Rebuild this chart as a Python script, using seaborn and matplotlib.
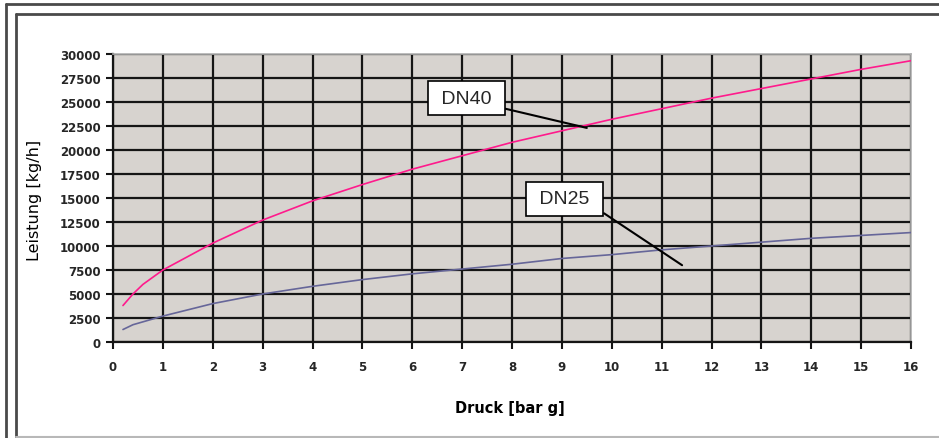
import matplotlib
matplotlib.use("Agg")
import matplotlib.pyplot as plt
import seaborn as sns
import pandas as pd
from matplotlib.lines import Line2D

# ---- data ----
druck = [0.2, 0.4, 0.6, 1, 2, 3, 4, 5, 6, 7, 8, 9, 10, 11, 12, 13, 14, 15, 16]
dn40 = [3800, 5000, 6000, 7500, 10300, 12700, 14700, 16400, 18000, 19400,
        20800, 22000, 23200, 24300, 25400, 26400, 27400, 28400, 29300]
dn25 = [1300, 1800, 2100, 2700, 4000, 5000, 5800, 6500, 7100, 7600,
        8100, 8700, 9100, 9600, 10000, 10400, 10800, 11100, 11400]
series_names = ["DN40", "DN25"]
series_colors = ["#ff1a8c", "#666699"]
xticks = list(range(0, 17))
yticks = list(range(0, 30001, 2500))
xlabel = "Druck [bar g]"
ylabel = "Leistung [kg/h]"

df = pd.concat([
    pd.DataFrame({"Druck": druck, "Leistung": dn40, "Serie": series_names[0]}),
    pd.DataFrame({"Druck": druck, "Leistung": dn25, "Serie": series_names[1]}),
])

sns.set_theme(style="white")
plt.rcParams["font.family"] = ["DejaVu Sans"]

W, H = 939, 439
fig = plt.figure(figsize=(W / 100, H / 100), dpi=100)
fig.patch.set_facecolor("white")

# outer frame lines (figure pixel coords)
def fline(x0, y0, x1, y1, color, lw):
    fig.add_artist(Line2D([x0 / W, x1 / W], [1 - y0 / H, 1 - y1 / H],
                          transform=fig.transFigure, color=color, lw=lw))

fline(6, 5, W, 5, "#4a4a4a", 2.0)
fline(6, 5, 6, H, "#4a4a4a", 2.0)
fline(16, 15, W, 15, "#4a4a4a", 2.0)
fline(16, 15, 16, H, "#4a4a4a", 2.0)
fline(16, 438, W, 438, "#b8b8b8", 1.5)

ax = fig.add_axes([113 / W, 1 - 343 / H, 798 / W, 288 / H])
ax.set_facecolor("#d7d3cf")

sns.lineplot(data=df, x="Druck", y="Leistung", hue="Serie",
             palette=dict(zip(series_names, series_colors)),
             ax=ax, legend=False, lw=1.2, zorder=5)

ax.set_xlim(0, 16)
ax.set_ylim(0, 30000)
ax.set_xticks(xticks)
ax.set_yticks(yticks)
ax.set_xticklabels([str(t) for t in xticks])
ax.set_yticklabels([str(t) for t in yticks])
ax.grid(True, color="#151515", lw=1.6)
ax.set_axisbelow(True)

for s in ["left", "bottom"]:
    ax.spines[s].set_color("#151515")
    ax.spines[s].set_linewidth(1.6)
for s in ["right", "top"]:
    ax.spines[s].set_color("#b0b0b0")
    ax.spines[s].set_linewidth(1.2)

ax.tick_params(axis="both", which="major", direction="out", length=5,
               width=1.5, color="#151515", labelsize=8.5, pad=4,
               bottom=True, left=True)
for lab in ax.get_xticklabels() + ax.get_yticklabels():
    lab.set_fontweight("bold")
ax.tick_params(axis="x", pad=8)

ax.set_xlabel("")
ax.set_ylabel("")
fig.text(510 / W, 1 - 409 / H, xlabel, ha="center", va="center",
         fontsize=10.5, fontweight="bold", color="black")
fig.text(35 / W, 1 - 200 / H, ylabel, ha="center", va="center",
         rotation=90, fontsize=11.5, color="black")

# annotations
bbox = dict(boxstyle="square,pad=0.42", fc="white", ec="black", lw=1.2)
ax.annotate(" DN40 ", xy=(9.5, 22300), xytext=(7.08, 25400),
            textcoords="data", ha="center", va="center",
            fontsize=14, family="Liberation Sans", bbox=bbox, zorder=10,
            arrowprops=dict(arrowstyle="-", color="black", lw=1.5,
                            relpos=(1, 0), shrinkA=0, shrinkB=0))
ax.annotate(" DN25 ", xy=(11.41, 8000), xytext=(9.06, 14900),
            textcoords="data", ha="center", va="center",
            fontsize=14, family="Liberation Sans", bbox=bbox, zorder=10,
            arrowprops=dict(arrowstyle="-", color="black", lw=1.5,
                            relpos=(1, 0), shrinkA=0, shrinkB=0))

fig.savefig("out.png", dpi=100)
